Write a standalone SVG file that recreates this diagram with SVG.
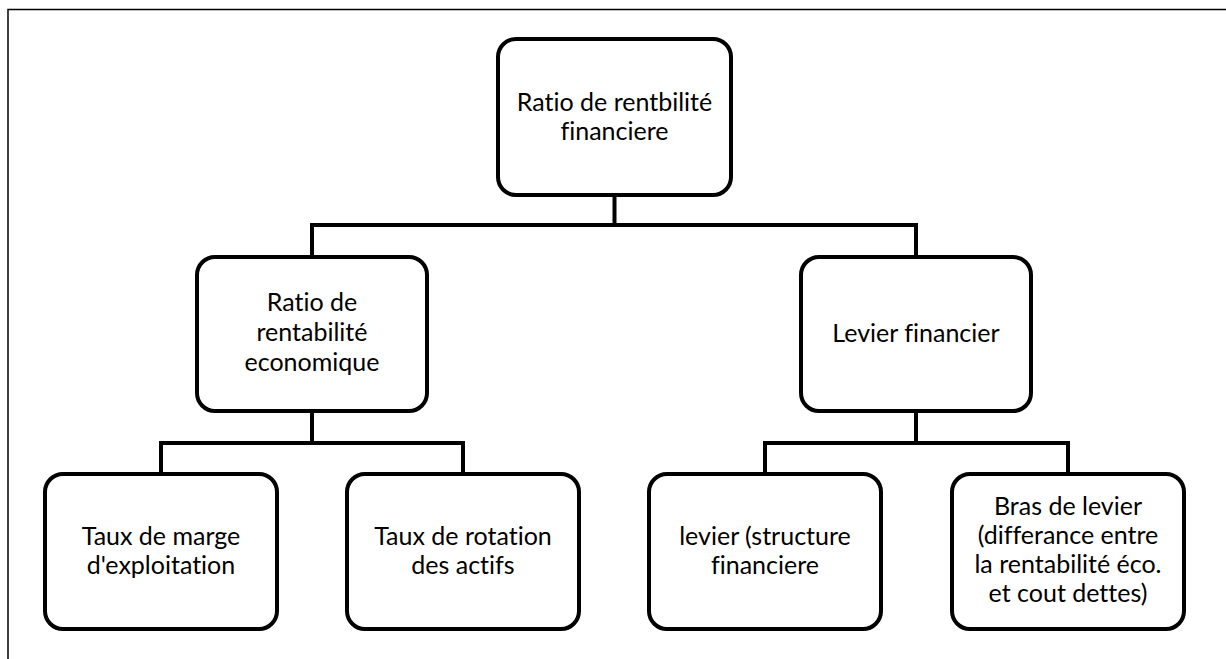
<svg xmlns="http://www.w3.org/2000/svg" width="1226" height="659" viewBox="0 0 1226 659">
  <style>
    .box { fill: #ffffff; stroke: #000000; stroke-width: 4; }
    .wire { fill: none; stroke: #000000; stroke-width: 4; stroke-linejoin: miter; }
    .frame { fill: none; stroke: #000000; stroke-width: 1.5; }
    .lbl { font-family: Lato, "Liberation Sans", sans-serif; font-size: 25px; fill: #000000; text-anchor: middle; font-variant-ligatures: none; }
  </style>
  <rect width="1226" height="659" fill="#ffffff"/>
  <!-- page frame: top and left edges -->
  <path class="frame" d="M 8 659 L 8 9.5 L 1226 9.5"/>

  <g id="connectors">
    <path class="wire" d="M 614.5 197 L 614.5 225 M 312 257 L 312 225 L 916 225 L 916 257"/>
    <path class="wire" d="M 312 413 L 312 443 M 161 474 L 161 443 L 463 443 L 463 474"/>
    <path class="wire" d="M 916 413 L 916 443 M 765 474 L 765 443 L 1068 443 L 1068 474"/>
  </g>

  <g id="node-rentabilite-financiere">
    <rect class="box" x="498" y="39" width="233" height="156" rx="18"/>
    <text class="lbl" x="614.5" y="111">Ratio de rentbilité</text>
    <text class="lbl" x="614.5" y="140">financiere</text>
  </g>

  <g id="node-rentabilite-economique">
    <rect class="box" x="197" y="257" width="230" height="154" rx="18"/>
    <text class="lbl" x="312" y="311">Ratio de</text>
    <text class="lbl" x="312" y="341">rentabilité</text>
    <text class="lbl" x="312" y="371">economique</text>
  </g>

  <g id="node-levier-financier">
    <rect class="box" x="801" y="257" width="230" height="154" rx="18"/>
    <text class="lbl" x="916" y="342">Levier financier</text>
  </g>

  <g id="node-marge">
    <rect class="box" x="45" y="474" width="232" height="155" rx="18"/>
    <text class="lbl" x="161" y="545">Taux de marge</text>
    <text class="lbl" x="161" y="574">d'exploitation</text>
  </g>

  <g id="node-rotation">
    <rect class="box" x="347" y="474" width="232" height="155" rx="18"/>
    <text class="lbl" x="463" y="545">Taux de rotation</text>
    <text class="lbl" x="463" y="574">des actifs</text>
  </g>

  <g id="node-structure">
    <rect class="box" x="649" y="474" width="232" height="155" rx="18"/>
    <text class="lbl" x="765" y="545">levier (structure</text>
    <text class="lbl" x="765" y="574">financiere</text>
  </g>

  <g id="node-bras-levier">
    <rect class="box" x="952" y="474" width="232" height="155" rx="18"/>
    <text class="lbl" x="1068" y="515">Bras de levier</text>
    <text class="lbl" x="1068" y="544">(differance entre</text>
    <text class="lbl" x="1068" y="573">la rentabilité éco.</text>
    <text class="lbl" x="1068" y="602">et cout dettes)</text>
  </g>
</svg>
